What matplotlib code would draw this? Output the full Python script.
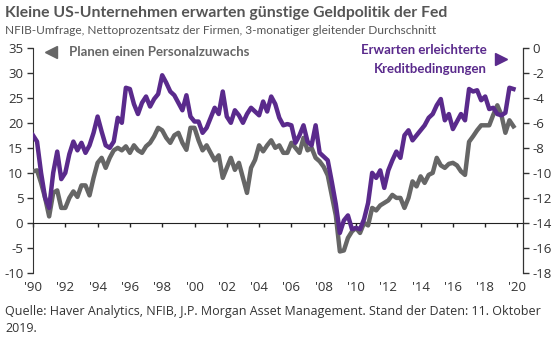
import numpy as np
import matplotlib.pyplot as plt

# Quarterly points, 1990 to autumn 2019 (3-month moving averages)
years = np.arange(120) / 4 + 1990

# share of firms planning to add staff (left axis, %)
hiring = [10.3, 10.5, 8.0, 5.0, 1.3, 6.0, 6.5, 3.0, 3.0, 5.0,
          6.3, 5.2, 7.5, 7.5, 5.5, 9.0, 12.0, 13.0, 11.0, 13.0,
          14.5, 15.0, 14.5, 15.3, 14.0, 15.5, 14.5, 14.0, 15.3, 16.0,
          17.3, 19.0, 18.5, 17.0, 16.0, 17.5, 18.0, 16.0, 14.6, 19.0,
          19.0, 16.5, 14.5, 15.5, 14.0, 12.5, 13.5, 9.0, 11.0, 13.0,
          10.6, 12.0, 9.0, 6.0, 11.0, 12.6, 15.5, 14.3, 15.5, 16.5,
          15.0, 15.5, 14.0, 14.0, 16.0, 15.0, 14.0, 17.0, 14.5, 15.0,
          13.0, 12.3, 11.2, 9.5, 5.5, 1.5, -5.7, -5.5, -3.0, -1.7,
          -1.0, -2.0, 0.0, -0.5, 3.0, 2.5, 3.5, 4.0, 4.5, 5.6,
          5.0, 5.0, 3.0, 5.0, 8.3, 7.3, 9.3, 8.0, 9.6, 10.0,
          13.0, 11.5, 11.0, 11.8, 12.0, 11.5, 10.3, 9.6, 16.2, 17.3,
          18.5, 19.5, 19.5, 19.5, 21.6, 23.5, 21.6, 18.0, 20.5, 19.3]

# share of firms expecting easier credit conditions (right axis, %)
credit = [-7.0, -7.5, -10.0, -12.0, -12.8, -10.0, -8.3, -10.5, -10.0, -8.5,
          -7.5, -8.2, -7.6, -8.4, -7.8, -6.8, -5.5, -6.7, -7.8, -8.0,
          -7.5, -5.6, -6.0, -3.2, -3.3, -4.5, -5.3, -4.4, -3.9, -4.7,
          -4.1, -3.7, -2.2, -2.8, -3.5, -3.8, -4.4, -5.0, -3.8, -5.5,
          -5.9, -5.9, -6.8, -6.4, -5.6, -4.8, -5.3, -3.5, -5.5, -6.0,
          -5.0, -5.4, -6.0, -5.3, -4.8, -5.1, -5.4, -4.3, -5.1, -3.9,
          -4.5, -5.6, -6.2, -6.1, -6.2, -7.6, -7.0, -6.2, -7.5, -7.8,
          -6.2, -8.4, -8.7, -9.0, -10.7, -12.5, -14.8, -13.8, -13.4, -14.5,
          -14.4, -14.5, -13.7, -12.4, -10.0, -10.4, -9.8, -11.2, -9.8, -9.0,
          -8.3, -8.8, -7.0, -6.6, -7.4, -7.0, -6.6, -6.2, -5.6, -5.3,
          -4.6, -4.1, -5.8, -5.3, -6.5, -5.9, -5.3, -5.8, -3.3, -3.5,
          -3.4, -4.2, -3.9, -4.9, -4.8, -5.3, -5.4, -5.2, -3.2, -3.3]

xticks = np.arange(1990, 2021, 2)
xlabels = ["'" + str(y)[2:] for y in xticks]

grey = '#666666'
purple = '#5a2a8c'
txt = '#555555'
head = ['Lato', 'DejaVu Sans']

plt.rcParams['font.family'] = ['Open Sans', 'DejaVu Sans']
plt.rcParams['axes.unicode_minus'] = False

fig = plt.figure(figsize=(5.6, 3.38), dpi=100)
ax = fig.add_axes([33 / 560, 65 / 338, 490 / 560, 225.3 / 338])
ax2 = ax.twinx()

ax.plot(years, hiring, color=grey, lw=3.2, solid_joinstyle='round', zorder=3)
ax2.plot(years, credit, color=purple, lw=3.2, solid_joinstyle='round', zorder=3)

ax.set_xlim(1990, 1990 + 490 / 16.15)
ax.set_ylim(-10, 35)
ax2.set_ylim(-18, 0)
ax.set_yticks(np.arange(-10, 36, 5))
ax2.set_yticks(np.arange(-18, 1, 2))

# put the purple series above the grey one
ax.set_zorder(1)
ax2.set_zorder(2)
ax.patch.set_visible(False)

for a in (ax, ax2):
    a.spines['top'].set_visible(False)
    a.spines['bottom'].set_visible(False)
    a.tick_params(axis='y', labelsize=9.5, labelcolor='#333333', length=4,
                  width=1, color='#333333', pad=3)
ax2.spines['left'].set_visible(False)
ax.spines['left'].set_color('#333333')
ax2.spines['right'].set_color('#333333')

# zero line carries the year ticks, labels sit below the plot
ax.spines['bottom'].set_visible(True)
ax.spines['bottom'].set_position(('data', 0))
ax.spines['bottom'].set_color('#222222')
ax.set_xticks(xticks)
ax.tick_params(axis='x', direction='out', length=3, width=1,
               color='#222222', labelbottom=False)
sec = ax.secondary_xaxis(0.0)
sec.set_xticks(xticks)
sec.set_xticklabels(xlabels)
sec.spines['bottom'].set_visible(False)
sec.tick_params(axis='x', length=0, labelsize=9.5, labelcolor='#333333', pad=6)

# legend text
ax.plot([1991.1], [34.2], marker='<', ms=9, color=grey, clip_on=False)
ax.text(1992.2, 34.2, 'Planen einen Personalzuwachs', color=grey,
        fontsize=9.5, fontweight='bold', va='center', ha='left', family=head)
ax2.plot([2019.0], [-0.9], marker='>', ms=9, color=purple, clip_on=False)
ax2.text(2018.1, -0.2, 'Erwarten erleichterte', color=purple,
         fontsize=9.5, fontweight='bold', va='center', ha='right', family=head)
ax2.text(2018.1, -1.7, 'Kreditbedingungen', color=purple,
         fontsize=9.5, fontweight='bold', va='center', ha='right', family=head)

fig.text(5 / 560, 1 - 13 / 338,
         'Kleine US-Unternehmen erwarten günstige Geldpolitik der Fed',
         fontsize=11.3, fontweight='bold', color=txt, va='center', family=head)
fig.text(5 / 560, 1 - 30 / 338,
         'NFIB-Umfrage, Nettoprozentsatz der Firmen, 3-monatiger gleitender Durchschnitt',
         fontsize=8.6, color=txt, va='center', family=head)
fig.text(5 / 560, 1 - 312 / 338,
         'Quelle: Haver Analytics, NFIB, J.P. Morgan Asset Management. Stand der Daten: 11. Oktober',
         fontsize=9, color='#333333', va='center')
fig.text(5 / 560, 1 - 328 / 338, '2019.', fontsize=9, color='#333333', va='center')

fig.savefig('out.png', dpi=100)
